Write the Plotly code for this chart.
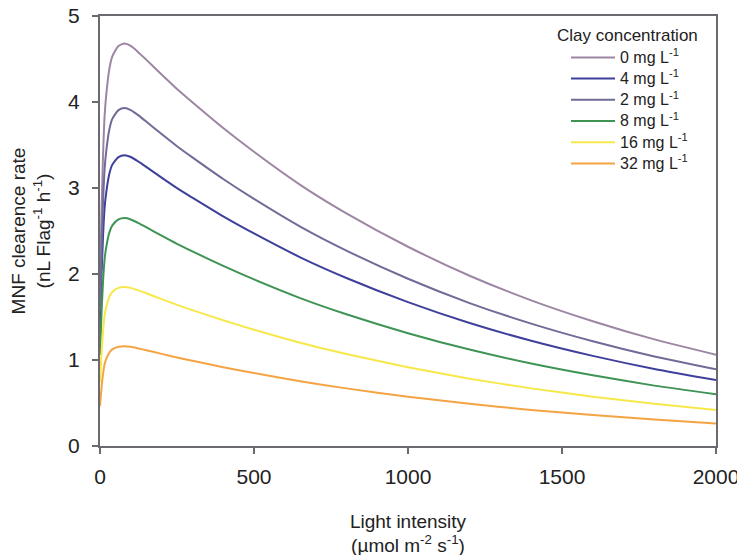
import plotly.graph_objects as go

light = [0, 5, 10, 15, 20, 30, 40, 60, 80, 100, 125, 150, 200, 250, 300, 400,
         500, 650, 800, 1000, 1200, 1400, 1600, 1800, 2000]

clay_0 = [1.872, 2.738, 3.393, 3.838, 4.072, 4.376, 4.530, 4.652, 4.680, 4.652,
          4.577, 4.493, 4.320, 4.151, 3.997, 3.697, 3.421, 3.037, 2.705, 2.317,
          1.980, 1.694, 1.451, 1.240, 1.062]
clay_4 = [1.352, 1.977, 2.451, 2.772, 2.941, 3.160, 3.272, 3.360, 3.380, 3.360,
          3.306, 3.245, 3.120, 2.998, 2.887, 2.670, 2.471, 2.194, 1.954, 1.673,
          1.430, 1.224, 1.048, 0.896, 0.767]
clay_2 = [1.572, 2.299, 2.849, 3.223, 3.419, 3.675, 3.804, 3.906, 3.930, 3.906,
          3.844, 3.773, 3.627, 3.486, 3.356, 3.105, 2.873, 2.551, 2.272, 1.945,
          1.662, 1.423, 1.218, 1.041, 0.892]
clay_8 = [1.060, 1.550, 1.921, 2.173, 2.306, 2.478, 2.565, 2.634, 2.650, 2.634,
          2.592, 2.544, 2.446, 2.351, 2.263, 2.094, 1.937, 1.720, 1.532, 1.312,
          1.121, 0.959, 0.822, 0.702, 0.602]
clay_16 = [0.740, 1.082, 1.341, 1.517, 1.610, 1.730, 1.791, 1.839, 1.850, 1.839,
           1.809, 1.776, 1.708, 1.641, 1.580, 1.462, 1.352, 1.201, 1.069, 0.916,
           0.783, 0.670, 0.574, 0.490, 0.420]
clay_32 = [0.464, 0.679, 0.841, 0.951, 1.009, 1.085, 1.123, 1.153, 1.160, 1.153,
           1.134, 1.114, 1.071, 1.029, 0.991, 0.916, 0.848, 0.753, 0.670, 0.574,
           0.491, 0.420, 0.360, 0.307, 0.263]

series_labels = ["0 mg L<sup>-1</sup>", "4 mg L<sup>-1</sup>", "2 mg L<sup>-1</sup>",
                 "8 mg L<sup>-1</sup>", "16 mg L<sup>-1</sup>", "32 mg L<sup>-1</sup>"]
series_values = [clay_0, clay_4, clay_2, clay_8, clay_16, clay_32]
series_colors = ["#9d86a3", "#3f3f9c", "#6f6c98", "#3f9455", "#f7e84a", "#f4a443"]

legend_title = "Clay concentration"
x_ticks = [0, 500, 1000, 1500, 2000]
y_ticks = [0, 1, 2, 3, 4, 5]

FONT = "Liberation Sans, Arial, sans-serif"
AXIS_COLOR = "#6a6a70"
TEXT_COLOR = "#222222"

fig = go.Figure()
for label, vals, col in zip(series_labels, series_values, series_colors):
    fig.add_trace(go.Scatter(
        x=light, y=vals, mode="lines",
        name='<span style="font-size:16px">' + label + '</span>',
        line=dict(color=col, width=2, shape="spline", smoothing=0.6),
    ))

fig.add_annotation(
    text=legend_title, xref="paper", yref="paper",
    x=0.857, y=0.955, xanchor="center", yanchor="middle", showarrow=False,
    font=dict(size=17, family=FONT, color=TEXT_COLOR),
)

fig.update_layout(
    width=745, height=555,
    margin=dict(l=92, r=37, t=8, b=117),
    paper_bgcolor="white", plot_bgcolor="white",
    font=dict(family=FONT, color=TEXT_COLOR),
    showlegend=True,
    legend=dict(
        font=dict(size=14, family=FONT, color=TEXT_COLOR),
        x=0.7565, y=0.940, xanchor="left", yanchor="top",
        bgcolor="rgba(0,0,0,0)", tracegroupgap=0, itemwidth=44,
    ),
    xaxis=dict(
        range=[0, 2000], tickvals=x_ticks, ticktext=[str(v) for v in x_ticks],
        showgrid=False, zeroline=False, automargin=False,
        showline=True, linecolor=AXIS_COLOR, linewidth=2, mirror=True,
        ticks="outside", ticklen=6, tickwidth=1.5, tickcolor=AXIS_COLOR,
        ticklabelstandoff=5, ticklabeloverflow="allow",
        tickfont=dict(size=21, family=FONT, color=TEXT_COLOR),
        title=dict(text="Light intensity<br>(µmol m<sup>-2</sup> s<sup>-1</sup>)",
                   font=dict(size=19, family=FONT, color=TEXT_COLOR), standoff=27),
    ),
    yaxis=dict(
        range=[0, 5], tickvals=y_ticks, ticktext=[str(v) for v in y_ticks],
        showgrid=False, zeroline=False, automargin=False,
        showline=True, linecolor=AXIS_COLOR, linewidth=2, mirror=True,
        ticks="outside", ticklen=6, tickwidth=1.5, tickcolor=AXIS_COLOR,
        ticklabelstandoff=8, ticklabeloverflow="allow",
        tickfont=dict(size=21, family=FONT, color=TEXT_COLOR),
        title=dict(text="MNF clearence rate<br>(nL Flag<sup>-1</sup> h<sup>-1</sup>)",
                   font=dict(size=19, family=FONT, color=TEXT_COLOR), standoff=14),
    ),
)

fig.write_html("out.html")
